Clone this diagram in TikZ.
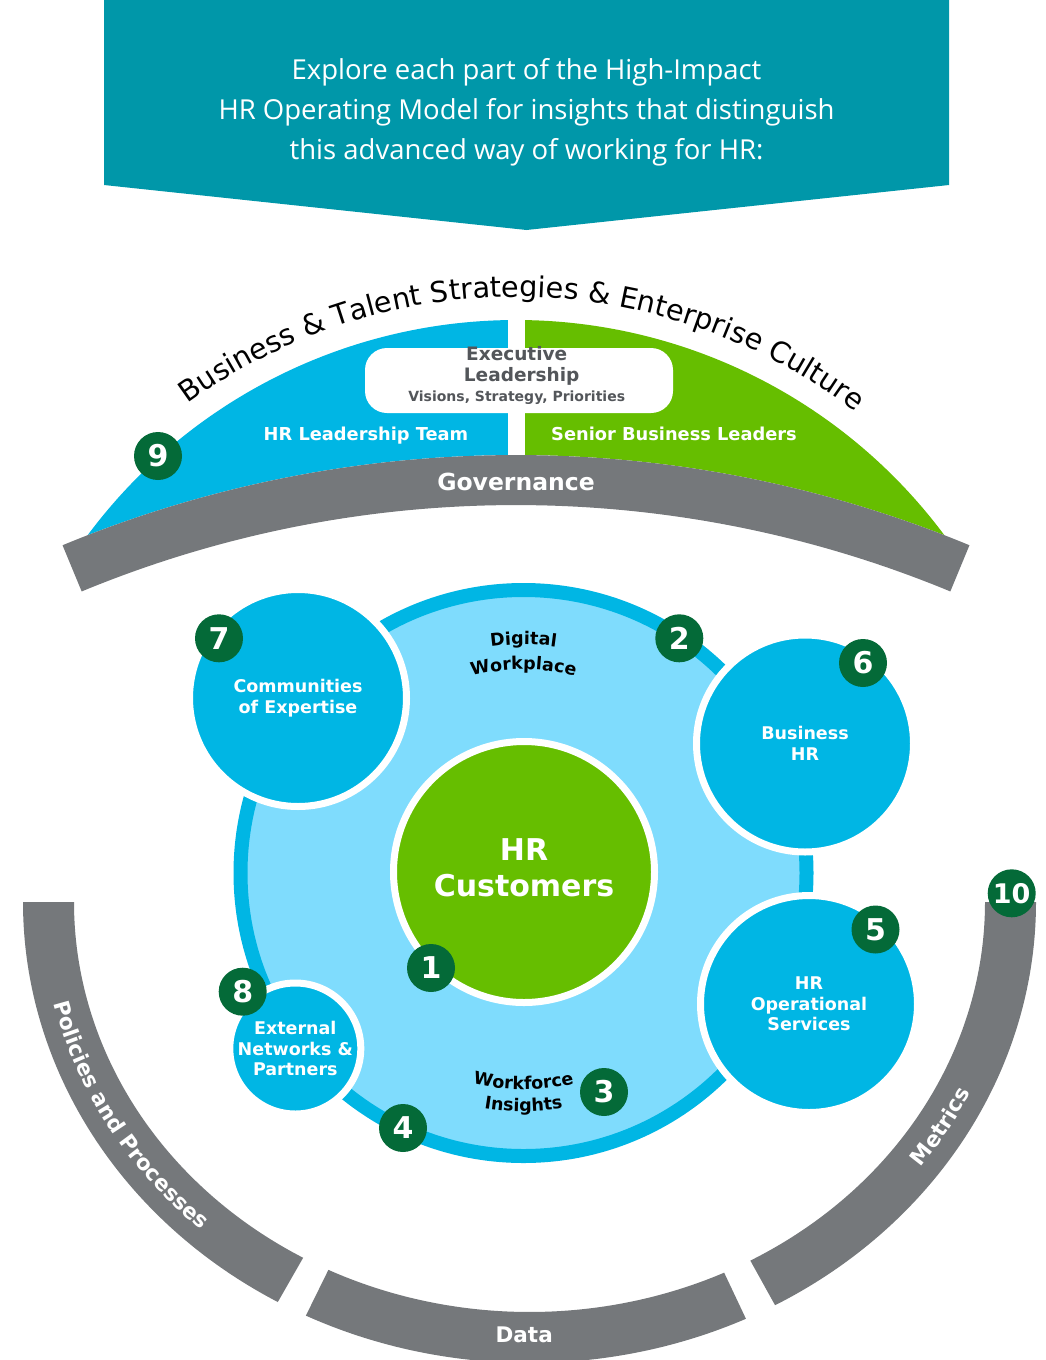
\documentclass[tikz,border=0pt]{standalone}
\usepackage{fontspec}
\setmainfont{DejaVu Sans}
\newfontfamily\osans{Open Sans}
\usetikzlibrary{calc,decorations.text}
\definecolor{hrteal}{RGB}{0,151,169}
\definecolor{hrblue}{RGB}{0,182,228}
\definecolor{hrlight}{RGB}{127,220,253}
\definecolor{hrgreen}{RGB}{102,190,0}
\definecolor{dkgreen}{RGB}{4,106,56}
\definecolor{bandgray}{RGB}{117,120,123}
\definecolor{execgray}{RGB}{83,86,90}
\newcommand\fsz[2]{\fontsize{#1}{#2}\selectfont}
\newcommand\titlefont{\normalfont\fontsize{28.7}{30}\selectfont}
\newcommand\bandfont{\bfseries\fontsize{21.5}{22}\selectfont}
\newcommand\arcfont{\bfseries\fontsize{17.5}{18}\selectfont}
\begin{document}
\begin{tikzpicture}[x=1pt,y=1pt,
  badge/.style={circle, fill=dkgreen, text=white, minimum size=48pt, inner sep=0pt, font=\bfseries\fsz{30}{30}},
  sat/.style={circle, fill=hrblue, draw=white, line width=7pt, inner sep=0pt, text=white, align=center, font=\bfseries\fsz{17.5}{20.5}},
  bannertext/.style={anchor=base, text=white, inner sep=0pt, font=\osans\fsz{27.5}{40}},
  domelabel/.style={anchor=base, text=white, inner sep=0pt, font=\bfseries\fsz{17.8}{20}},
  exectext/.style={anchor=base, text=execgray, inner sep=0pt, font=\bfseries\fsz{18.5}{20}},
  bandtext/.style={anchor=base, text=white, inner sep=0pt, font=\bandfont},
]
\useasboundingbox (0,0) rectangle (1045,-1360);

% ---------- banner ----------
\fill[hrteal] (104,0) -- (949,0) -- (949,-185) -- (526.5,-230) -- (104,-185) -- cycle;
\node[bannertext] (ban1) at (526.5,-79.8) {Explore each part of the High-Impact};
\node[bannertext] (ban2) at (526.5,-119.8) {HR Operating Model for insights that distinguish};
\node[bannertext] (ban3) at (526.5,-159.8) {this advanced way of working for HR:};

% ---------- dome ----------
\coordinate (D) at (516,-854);
\coordinate (G) at (516,-1640);
\fill[hrblue] ($(D)+(90.86:534pt)$) arc[start angle=90.86, end angle=143.33, radius=534pt]
   arc[start angle=111.19, end angle=90.39, radius=1185pt] -- cycle;
\fill[hrgreen] ($(D)+(89.03:534pt)$) arc[start angle=89.03, end angle=36.67, radius=534pt]
   arc[start angle=68.81, end angle=89.56, radius=1185pt] -- cycle;

\node[fill=white, rounded corners=22pt, minimum width=308pt, minimum height=65pt, inner sep=0pt] (exec) at (519,-380.5) {};
\node[exectext] (exec1) at (516.7,-360) {Executive};
\node[exectext] (exec2) at (521.7,-381.7) {Leadership};
\node[exectext, font=\bfseries\fsz{14}{15}] (exec3) at (516.7,-401.8) {Visions, Strategy, Priorities};

\node[domelabel] (hrlt) at (366,-440.5) {HR Leadership Team};
\node[domelabel] (sbl) at (674,-440.5) {Senior Business Leaders};

\path[decorate, decoration={text along path, text color=black,
   text={|\titlefont|Business {\&} Talent Strategies {\&} Enterprise Culture}, text align=center}]
   ($(D)+(140:557pt)$) arc[start angle=140, end angle=38.6, radius=557pt];

% governance band
\fill[bandgray] ($(G)+(112.5:1185pt)$) arc[start angle=112.5, end angle=67.5, radius=1185pt]
   -- ($(G)+(67.5:1135pt)$) arc[start angle=67.5, end angle=112.5, radius=1135pt] -- cycle;
\node[bandtext, font=\bfseries\fsz{23.5}{24}] (gov) at (516,-490.6) {Governance};

% ---------- lower bands ----------
\coordinate (L) at (529.5,-902);
\fill[bandgray] ($(L)+(180:506.5pt and 461pt)$) arc[start angle=180, end angle=240.2, x radius=506.5pt, y radius=461pt]
   -- ($(L)+(240.2:455.5pt and 410pt)$) arc[start angle=240.2, end angle=180, x radius=455.5pt, y radius=410pt] -- cycle;
\fill[bandgray] ($(L)+(243.8:506.5pt and 461pt)$) arc[start angle=243.8, end angle=295.3, x radius=506.5pt, y radius=461pt]
   -- ($(L)+(295.3:455.5pt and 410pt)$) arc[start angle=295.3, end angle=243.8, x radius=455.5pt, y radius=410pt] -- cycle;
\fill[bandgray] ($(L)+(299:506.5pt and 461pt)$) arc[start angle=299, end angle=360, x radius=506.5pt, y radius=461pt]
   -- ($(L)+(360:455.5pt and 410pt)$) arc[start angle=360, end angle=299, x radius=455.5pt, y radius=410pt] -- cycle;

\path[decorate, decoration={text along path, text color=white,
   text={|\bandfont|Policies and Processes}, text align=center}]
   ($(L)+(180:488.5pt and 443pt)$) arc[start angle=180, end angle=240.2, x radius=488.5pt, y radius=443pt];
\path[decorate, decoration={text along path, text color=white,
   text={|\bandfont|Metrics}, text align=center}]
   ($(L)+(299:488.5pt and 443pt)$) arc[start angle=299, end angle=360, x radius=488.5pt, y radius=443pt];
\node[bandtext] (data) at (524.2,-1342.6) {Data};

% ---------- central cluster ----------
\node[circle, fill=hrlight, draw=hrblue, line width=14pt, minimum size=566pt, inner sep=0pt] (ring) at (523.5,-873) {};
\coordinate (R) at (523.5,-873);

\path[decorate, decoration={text along path, text color=black,
   text={|\arcfont|Digital}, text align=center}]
   ($(R)+(125:228.5pt)$) arc[start angle=125, end angle=55, radius=228.5pt];
\path[decorate, decoration={text along path, text color=black,
   text={|\arcfont|Workplace}, text align=center}]
   ($(R)+(125:203.5pt)$) arc[start angle=125, end angle=55, radius=203.5pt];
\path[decorate, decoration={text along path, text color=black,
   text={|\arcfont|Workforce}, text align=center}]
   ($(R)+(235:216.5pt)$) arc[start angle=235, end angle=305, radius=216.5pt];
\path[decorate, decoration={text along path, text color=black,
   text={|\arcfont|Insights}, text align=center}]
   ($(R)+(235:238.5pt)$) arc[start angle=235, end angle=305, radius=238.5pt];

\node[sat, minimum size=217pt] (coe) at (298,-698) {Communities\\of Expertise};
\node[sat, minimum size=217pt] (bhr) at (805,-743.5) {Business\\HR};
\node[sat, minimum size=217pt] (hros) at (809,-1004) {HR\\Operational\\Services};
\node[sat, minimum size=131pt] (ext) at (295.3,-1048.5) {External\\Networks \&\\Partners};

\node[circle, fill=hrgreen, draw=white, line width=7pt, minimum size=261pt, inner sep=0pt] (cust) at (524,-872) {};
\node[text=white, align=center, inner sep=0pt, font=\bfseries\fsz{30}{36}] (custtxt) at (524,-868) {HR\\Customers};

% ---------- badges ----------
\node[badge] (n1) at (431,-968) {1};
\node[badge] (n2) at (679.3,-638.3) {2};
\node[badge] (n3) at (604,-1092) {3};
\node[badge] (n4) at (403,-1128) {4};
\node[badge] (n5) at (875.5,-929.5) {5};
\node[badge] (n6) at (863,-663) {6};
\node[badge] (n7) at (219,-638.3) {7};
\node[badge] (n8) at (242.7,-991.7) {8};
\node[badge] (n9) at (158,-456) {9};
\node[badge, font=\bfseries\fsz{27}{27}] (n10) at (1011.7,-893.3) {10};
\end{tikzpicture}
\end{document}
